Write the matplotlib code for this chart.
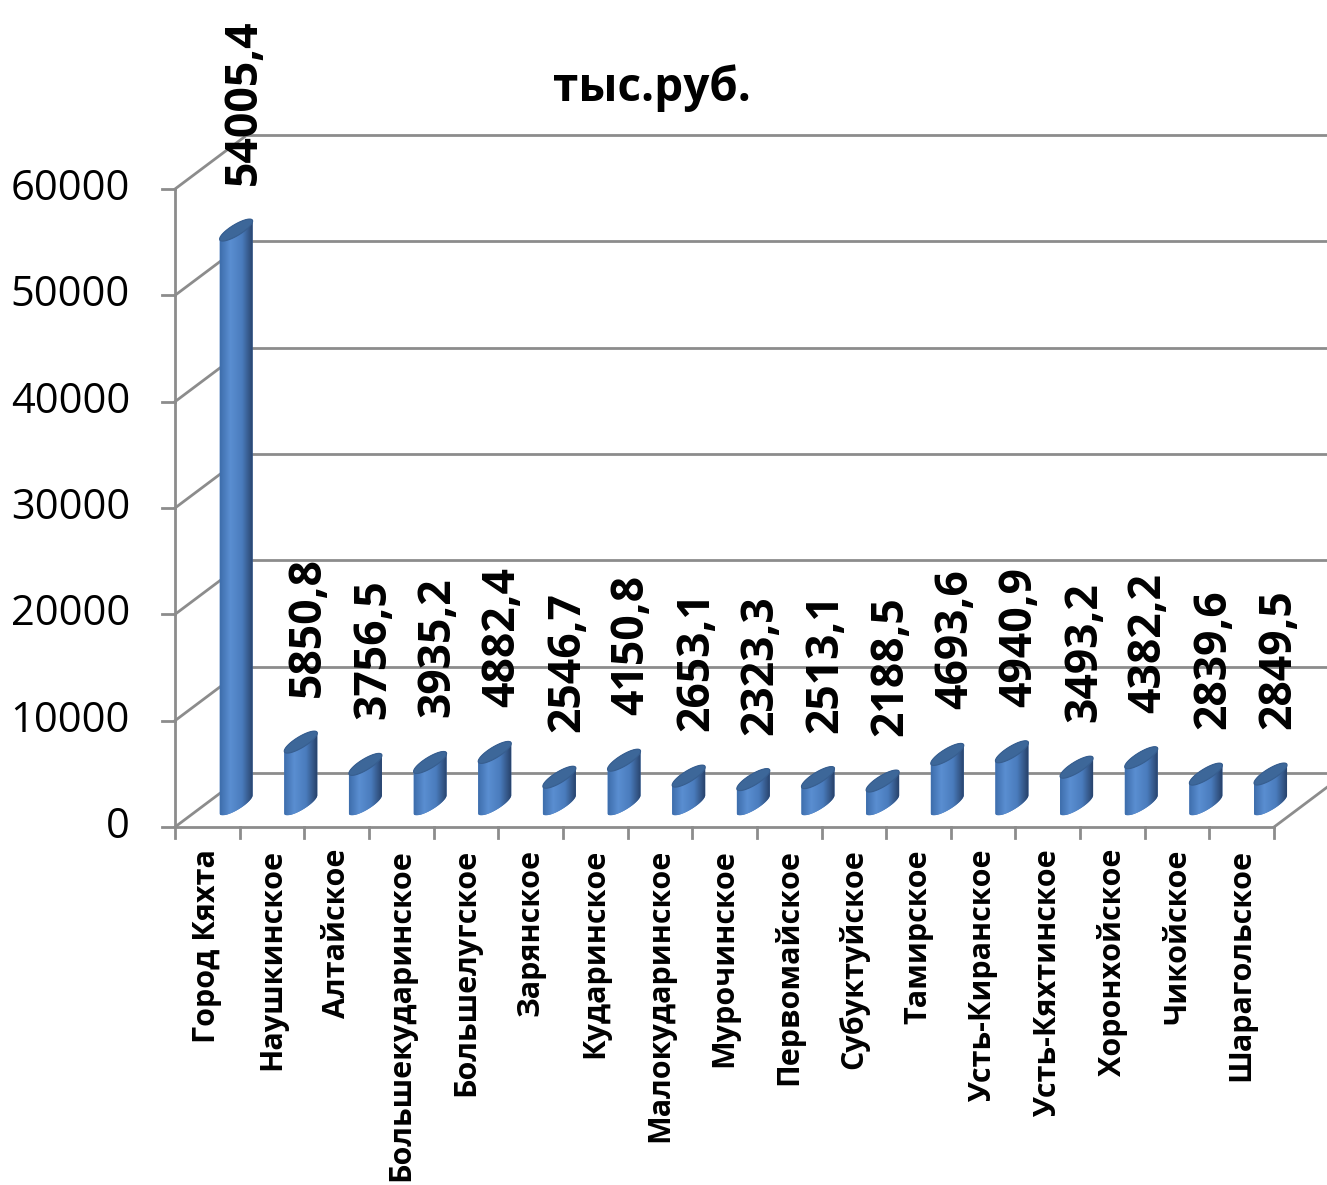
import numpy as np
import matplotlib.pyplot as plt
from matplotlib.patches import Polygon
from matplotlib.colors import LinearSegmentedColormap

plt.rcParams['font.family'] = ['Open Sans', 'DejaVu Sans']

# data
categories = ['Город Кяхта', 'Наушкинское', 'Алтайское', 'Большекударинское',
              'Большелугское', 'Зарянское', 'Кударинское', 'Малокударинское',
              'Мурочинское', 'Первомайское', 'Субуктуйское', 'Тамирское',
              'Усть-Киранское', 'Усть-Кяхтинское', 'Хоронхойское', 'Чикойское',
              'Шарагольское']
values = [54005.4, 5850.8, 3756.5, 3935.2, 4882.4, 2546.7, 4150.8, 2653.1,
          2323.3, 2513.1, 2188.5, 4693.6, 4940.9, 3493.2, 4382.2, 2839.6, 2849.5]
y_ticks = [0, 10000, 20000, 30000, 40000, 50000, 60000]
title = 'тыс.руб.'

W, H = 1327, 1185
fig = plt.figure(figsize=(W / 100, H / 100), dpi=100)
ax = fig.add_axes([0, 0, 1, 1])
ax.axis('off')

# pixel scale of the front plane
cw = 64.65            # px per category
ky = 638 / 60000      # px per value unit
x0, y0 = 175, 358     # front-left floor corner (from bottom-left)

# depth of the 3d box
ddx = 72 / cw
ddy = 54 / ky
n = len(categories)
grid_c = '#8c8c8c'
lw = 2.0

# back wall + left wall
for v in y_ticks:
    ax.plot([ddx, n + ddx + 2], [v + ddy, v + ddy], color=grid_c, lw=lw, zorder=1)
    ax.plot([0, ddx], [v, v + ddy], color=grid_c, lw=lw, zorder=1)
    ax.plot([-13 / cw, 0], [v, v], color=grid_c, lw=lw, zorder=1)
    ax.text(-45 / cw, v, str(v), ha='right', va='center', fontsize=30)
ax.plot([0, 0], [0, y_ticks[-1]], color=grid_c, lw=lw, zorder=1)

# floor
ax.plot([0, n], [0, 0], color=grid_c, lw=lw, zorder=1)
ax.plot([n, n + ddx], [0, ddy], color=grid_c, lw=lw, zorder=1)
for i in range(n + 1):
    ax.plot([i, i], [0, -11 / ky], color=grid_c, lw=lw, zorder=1)
for i, name in enumerate(categories):
    ax.text(i + 0.5, -22 / ky, name, rotation=90, ha='center', va='top',
            fontsize=22, fontweight='bold')

# cylinders
cmap = LinearSegmentedColormap.from_list('cyl', [(0, '#3e6eac'), (0.3, '#5a8ed1'),
                                                (0.65, '#4a7cbd'), (1, '#263f66')])
grad = np.linspace(0, 1, 100).reshape(1, -1)
ax_, bx_, by_ = 9.5 / cw, 13.5 / cw, 11 / ky
t = np.linspace(0, 2 * np.pi, 240, endpoint=False)
ex = ax_ * np.cos(t) + bx_ * np.sin(t)
ey = by_ * np.sin(t)
il, ir = np.argmin(ex), np.argmax(ex)
hw = ex[ir]


def arc(i_from, i_to):
    idx = [(i_from + k) % len(t) for k in range(((i_to - i_from) % len(t)) + 1)]
    return ex[idx], ey[idx]


lx, ly = arc(il, ir)
if ly.mean() > 0:
    lx, ly = arc(ir, il)[0][::-1], arc(ir, il)[1][::-1]
ux, uy = arc(ir, il)
if uy.mean() < 0:
    ux, uy = arc(il, ir)[0][::-1], arc(il, ir)[1][::-1]

for i, v in enumerate(values):
    cx = i + 0.5 + 0.4 * ddx
    base = 0.42 * ddy
    top = base + v
    body = np.vstack([np.column_stack([cx + lx, base + ly]),
                      np.column_stack([cx + ux, top + uy])])
    patch = Polygon(body, closed=True, facecolor='#4a7cbf', edgecolor='none', zorder=3)
    ax.add_patch(patch)
    im = ax.imshow(grad, cmap=cmap, aspect='auto', zorder=3.5,
                   extent=[cx - hw, cx + hw, base - by_, top + by_])
    im.set_clip_path(patch)
    cap = Polygon(np.column_stack([cx + ex, top + ey]), closed=True,
                  facecolor='#3d6799', edgecolor='#375e8f', lw=0.8, zorder=4)
    ax.add_patch(cap)
    label = ('%.1f' % v).replace('.', ',')
    ax.text(cx + 8 / cw, top + by_ + 3200, label, rotation=90, ha='center', va='bottom',
            fontsize=32, fontweight='bold', zorder=5)

ax.set_xlim(-x0 / cw, (W - x0) / cw)
ax.set_ylim(-y0 / ky, (H - y0) / ky)

fig.text(652 / W, 1 - 88 / H, title, ha='center', va='center', fontsize=33,
         fontweight='bold')

fig.savefig('out.png', dpi=100)
